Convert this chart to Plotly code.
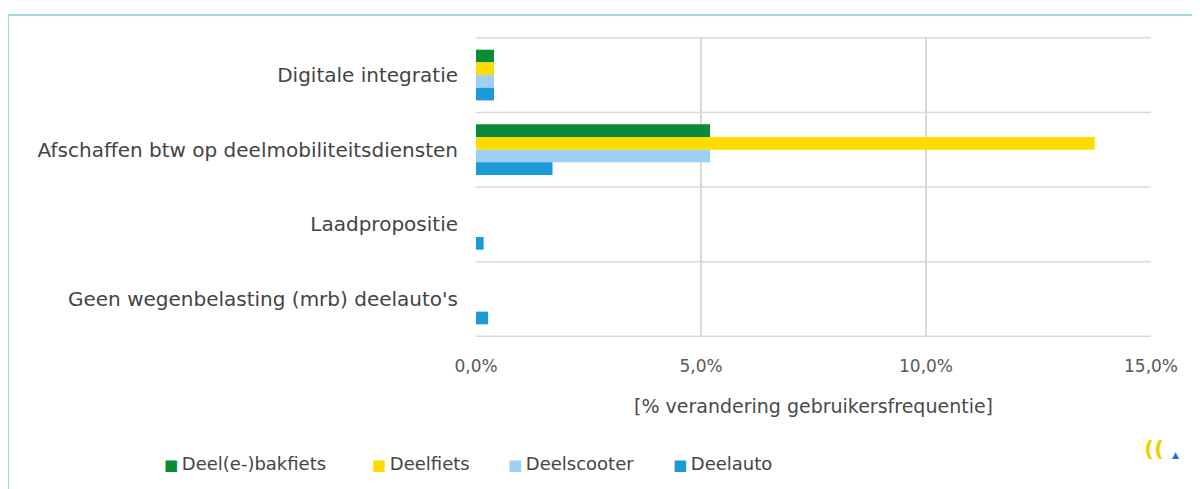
import plotly.graph_objects as go

categories = ["Digitale integratie",
              "Afschaffen btw op deelmobiliteitsdiensten",
              "Laadpropositie",
              "Geen wegenbelasting (mrb) deelauto's"]
series_names = ["Deel(e-)bakfiets", "Deelfiets", "Deelscooter", "Deelauto"]
bakfiets = [0.4, 5.2, 0.0, 0.0]
fiets = [0.4, 13.75, 0.0, 0.0]
scooter = [0.4, 5.2, 0.0, 0.0]
auto = [0.4, 1.7, 0.17, 0.27]
colors = ["#0B8B3A", "#FFDC00", "#9DD0F3", "#1C9AD6"]
x_ticks = [0, 5, 10, 15]
x_ticktext = [f"{v:.1f}%".replace(".", ",") for v in x_ticks]
x_title = "[% verandering gebruikersfrequentie]"

FONT = "DejaVu Sans"
fig = go.Figure()
for name, vals, c in zip(series_names, [bakfiets, fiets, scooter, auto], colors):
    fig.add_trace(go.Bar(y=categories, x=vals, name=name, orientation="h",
                         marker=dict(color=c, line=dict(width=0)), showlegend=False))

# page is offset by 8px (body margin); design in page coordinates
OFF = 8
W, H = 1200, 489
L, R, T, B = 476 - OFF, 1200 - (1151 - OFF), 37 - OFF, 489 - (337 - OFF)
pw, ph = W - L - R, H - T - B

def px(xp):
    return (xp - OFF - L) / pw

def py(yp):
    return (H - B - (yp - OFF)) / ph

shapes = []
for i in range(len(categories) + 1):
    shapes.append(dict(type="line", xref="paper", yref="y", x0=0, x1=1,
                       y0=i - 0.5, y1=i - 0.5, line=dict(color="#D9D9D9", width=1.5),
                       layer="below"))
shapes.append(dict(type="rect", xref="paper", yref="paper",
                   x0=px(8), x1=px(1215), y0=py(15), y1=py(500),
                   line=dict(color="#A6D8E0", width=2), fillcolor="rgba(0,0,0,0)"))

fig.update_layout(
    width=W, height=H,
    margin=dict(l=L, r=R, t=T, b=B, autoexpand=False),
    paper_bgcolor="white", plot_bgcolor="white",
    barmode="group", bargap=0.32, bargroupgap=0,
    font=dict(family=FONT, size=16, color="#404040"),
    showlegend=False,
    shapes=shapes,
)
fig.update_xaxes(range=[0, 15], tickvals=x_ticks, ticktext=x_ticktext,
                 showgrid=True, gridcolor="#D9D9D9", gridwidth=1.5,
                 zeroline=False, showline=False, ticks="",
                 ticklabelstandoff=17,
                 tickfont=dict(family=FONT, size=17, color="#595959"),
                 title=dict(text=x_title, standoff=24,
                            font=dict(family=FONT, size=19, color="#4A4A4A")))
fig.update_yaxes(autorange="reversed", showgrid=False, zeroline=False, showline=False,
                 ticks="", ticklabelstandoff=17,
                 tickfont=dict(family=FONT, size=20, color="#444444"))

# legend drawn as text entries (marker adjacent to label as in the reference)
legend_marker_x = [162, 370, 506, 671]
for name, c, xm in zip(series_names, colors, legend_marker_x):
    fig.add_annotation(xref="paper", yref="paper", x=px(xm), y=py(463),
                       xanchor="left", yanchor="middle", showarrow=False,
                       text=f'<span style="color:{c};font-size:15px">■</span>\u2009{name}',
                       font=dict(family=FONT, size=18, color="#444444"))

# logo approximation
fig.add_annotation(xref="paper", yref="paper", x=px(1166), y=py(463), text="<b>((</b>",
                   showarrow=False, font=dict(family=FONT, size=22, color="#E8D400"))
fig.add_annotation(xref="paper", yref="paper", x=px(1181), y=py(462), text="▲",
                   showarrow=False, font=dict(family=FONT, size=9, color="#1C6FD6"))

fig.write_html("out.html")
